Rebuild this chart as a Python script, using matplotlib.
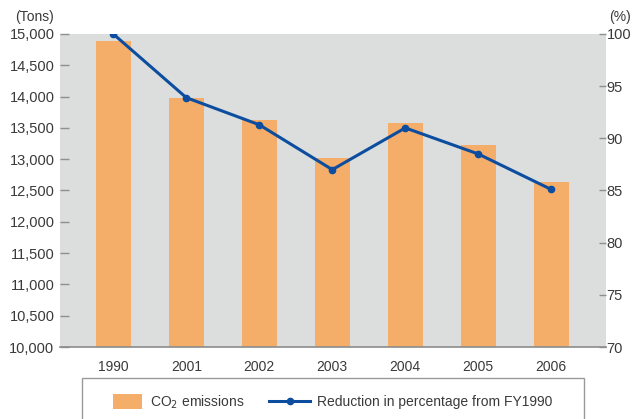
import numpy as np
import matplotlib.pyplot as plt
from matplotlib.patches import Rectangle
from matplotlib.legend_handler import HandlerPatch

years = ['1990', '2001', '2002', '2003', '2004', '2005', '2006']
emissions = [14890, 13980, 13630, 13020, 13580, 13230, 12640]
reduction = [100.0, 93.9, 91.3, 87.0, 91.0, 88.5, 85.1]

plt.rcParams['font.family'] = ['Liberation Sans', 'DejaVu Sans']
txt = '#3a3a3a'
tick_gray = '#8f8f8f'
W, H = 636, 419

fig = plt.figure(figsize=(W / 100, H / 100), dpi=100)
ax = fig.add_axes([60 / W, 1 - 347 / H, 546 / W, 313 / H])
ax.set_facecolor('#dcdddd')

x = np.arange(len(years))
bars = ax.bar(x, emissions, width=0.48, color='#f5ae6a', zorder=2)
ax.set_xlim(-0.73, 6.75)
ax.set_ylim(10000, 15000)
ax.set_yticks(np.arange(10000, 15001, 500))
ax.set_yticklabels([f'{v:,}' for v in range(10000, 15001, 500)])
ax.set_xticks(x)
ax.set_xticklabels(years)

for s in ['top', 'left', 'right']:
    ax.spines[s].set_visible(False)
ax.spines['bottom'].set_color('#8c8c8c')
ax.spines['bottom'].set_linewidth(1.2)
ax.spines['bottom'].set_zorder(5)
ax.tick_params(axis='y', direction='in', length=6.5, width=1, color=tick_gray,
               labelcolor=txt, labelsize=10.5, pad=4)
ax.tick_params(axis='x', length=0, labelcolor=txt, labelsize=10, pad=9)

ax2 = ax.twinx()
line, = ax2.plot(x, reduction, color='#0c4d9f', lw=2.2, marker='o', ms=4.5,
                 zorder=3)
ax2.set_ylim(70, 100)
ax2.set_yticks(np.arange(70, 101, 5))
for s in ['top', 'left', 'right', 'bottom']:
    ax2.spines[s].set_visible(False)
ax2.tick_params(axis='y', direction='in', length=5, width=1, color=tick_gray,
                labelcolor=txt, labelsize=10.5, pad=0.5)

fig.text(35 / W, 1 - 17 / H, '(Tons)', ha='center', va='center',
         fontsize=10, color=txt)
fig.text(620 / W, 1 - 17 / H, '(%)', ha='center', va='center',
         fontsize=10, color=txt)

# legend box runs off the bottom edge
fig.patches.append(Rectangle((82 / W, -0.05), 502 / W, 0.05 + 1 - 378 / H,
                             transform=fig.transFigure, fill=False,
                             edgecolor='#9a9a9a', lw=1.0))


def short_patch(legend, orig_handle, xdescent, ydescent, width, height, fontsize):
    # narrower swatch, right-aligned in its handle box
    return Rectangle((-xdescent + width * 0.28, -ydescent - 2), width * 0.72,
                     height + 4)


swatch = bars.patches[0]
fig.legend([swatch, line], ['CO$_2$ emissions',
                            'Reduction in percentage from FY1990'],
           loc='center left', bbox_to_anchor=(95 / W, 1 - 402 / H),
           ncol=2, frameon=False, fontsize=10, borderpad=0,
           handlelength=2.9, handletextpad=0.55, columnspacing=1.8,
           labelcolor=txt,
           handler_map={swatch: HandlerPatch(patch_func=short_patch)})

fig.savefig('out.png', dpi=100)
